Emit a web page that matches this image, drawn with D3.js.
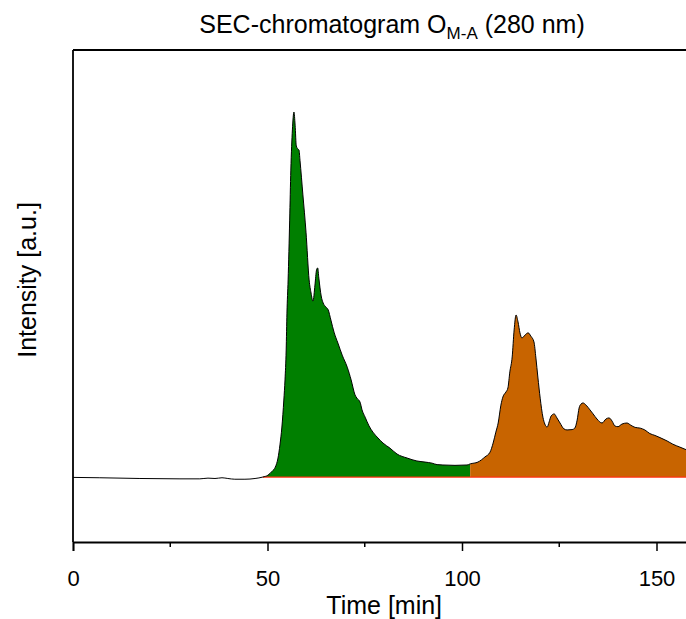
<!DOCTYPE html>
<html>
<head>
<meta charset="utf-8">
<script src="https://cdn.jsdelivr.net/npm/d3@7"></script>
<style>
    body { margin: 0; background: #fff; }
    svg { display: block; font-family: Arial, "Liberation Sans", sans-serif; }
</style>
</head>
<body>
<svg id="chart" width="686" height="619"></svg>
<script>
// Chromatogram trace (time in min, intensity in a.u.)
var time = [0, 6.9, 17.2, 27.5, 32.6, 34.7, 36.5, 38.3, 39.8, 41.6, 44.2, 46.8,
    48.8, 50.1, 51.2, 52.0, 52.7, 53.2, 53.7, 54.2, 54.5, 54.8, 55.0, 55.3, 55.7, 56.0, 56.4,
    56.8, 57.1, 57.4, 57.8, 58.1, 58.35, 59.1, 59.9, 60.7, 61.2, 61.7, 62.2, 62.6, 62.9,
    63.2, 63.8, 64.3, 65.0, 65.6, 66.3, 67.1, 68.1, 69.2, 70.5, 71.5, 72.5, 73.0, 73.8,
    74.3, 75.1, 76.1, 77.1, 78.4, 79.7, 81.5, 83.3, 85.9, 88.4, 90.5, 92.3, 93.6, 95.1,
    98.2, 101.3, 102.1, 104.1, 105.9, 107.2, 108.0, 108.7, 109.3, 110.0, 110.5, 111.3,
    111.8, 112.3, 112.9, 113.4, 113.9, 114.4, 114.9, 115.4, 116.2, 117.0, 117.7, 118.5,
    119.0, 119.5, 120.1, 120.8, 121.3, 121.9, 122.4, 122.9, 123.7, 124.4, 125.2, 126.2,
    127.0, 128.3, 129.0, 129.6, 130.1, 130.6, 131.1, 131.9, 132.9, 133.7, 134.7, 136.0,
    137.0, 137.8, 138.6, 139.3, 140.1, 141.1, 142.4, 143.4, 144.5, 145.8, 147.0, 148.3,
    149.6, 150.9, 152.7, 154.2, 156.0, 157.6, 159.1, 160];

var intensity = [-0.001, -0.002, -0.004, -0.005, -0.005, -0.003, -0.004, -0.002, -0.004, -0.006, -0.006, -0.004,
    0.0, 0.005, 0.016, 0.027, 0.052, 0.088, 0.137, 0.211, 0.266, 0.348, 0.449, 0.540, 0.704, 0.841, 0.951,
    1.0, 0.964, 0.907, 0.899, 0.896, 0.868, 0.773, 0.671, 0.540, 0.504, 0.482, 0.526, 0.567, 0.573,
    0.545, 0.496, 0.477, 0.466, 0.458, 0.430, 0.397, 0.367, 0.334, 0.301, 0.266, 0.225, 0.216, 0.205,
    0.184, 0.164, 0.140, 0.123, 0.107, 0.093, 0.079, 0.063, 0.052, 0.044, 0.041, 0.038, 0.034, 0.033,
    0.032, 0.033, 0.036, 0.041, 0.055, 0.068, 0.093, 0.123, 0.148, 0.197, 0.219, 0.233,
    0.244, 0.288, 0.329, 0.403, 0.444, 0.425, 0.395, 0.381, 0.389, 0.395, 0.386, 0.370,
    0.326, 0.274, 0.216, 0.164, 0.145, 0.137, 0.151, 0.167, 0.173, 0.162, 0.148, 0.132,
    0.129, 0.130, 0.134, 0.156, 0.189, 0.200, 0.203, 0.197, 0.184, 0.173, 0.159, 0.148,
    0.159, 0.162, 0.153, 0.140, 0.138, 0.145, 0.148, 0.142, 0.136, 0.134, 0.129, 0.119,
    0.114, 0.108, 0.099, 0.090, 0.082, 0.075, 0.068, 0.065];

// Integrated fractions: [start, end] in min
var fractionNames = ["F1", "F2"];
var fractionFrom = [48.8, 102.1];
var fractionTo = [102.1, 160];
var fractionColors = ["#007f00", "#c86400"];

var xTicks = [0, 50, 100, 150];
var xMinorTicks = [25, 75, 125];

var svg = d3.select("#chart"),
    plotLeft = 73,
    plotTop = 50,
    plotBottom = 542;

var x = d3.scaleLinear().domain([0, 160]).range([plotLeft, plotLeft + 160 * 3.89]);
var y = d3.scaleLinear().domain([-0.178, 1.17]).range([plotBottom, plotTop]);

var trace = time.map(function (t, i) { return { t: t, v: intensity[i] }; });

// Shaded fractions
fractionNames.forEach(function (name, k) {
    var pts = trace.filter(function (d) { return d.t >= fractionFrom[k] && d.t <= fractionTo[k]; });
    svg.append("path")
        .datum(pts)
        .attr("class", "fraction " + name)
        .attr("fill", fractionColors[k])
        .attr("d", d3.area()
            .x(function (d) { return x(d.t); })
            .y0(y(0))
            .y1(function (d) { return y(d.v); })
            .curve(d3.curveMonotoneX));
});

// Integration baseline
svg.append("line")
    .attr("x1", x(fractionFrom[0]))
    .attr("x2", x(160))
    .attr("y1", y(0))
    .attr("y2", y(0))
    .attr("stroke", "#ff3010")
    .attr("stroke-width", 1.3);

// Trace
svg.append("path")
    .datum(trace)
    .attr("fill", "none")
    .attr("stroke", "#000")
    .attr("stroke-width", 1)
    .attr("d", d3.line()
        .x(function (d) { return x(d.t); })
        .y(function (d) { return y(d.v); })
        .curve(d3.curveMonotoneX));

// Frame: left and top
svg.append("line")
    .attr("x1", plotLeft).attr("x2", plotLeft)
    .attr("y1", plotTop).attr("y2", plotBottom)
    .attr("stroke", "#000").attr("stroke-width", 1.8);
svg.append("line")
    .attr("x1", plotLeft).attr("x2", 700)
    .attr("y1", plotTop).attr("y2", plotTop)
    .attr("stroke", "#000").attr("stroke-width", 1.8);

var xAxis = svg.append("g")
    .attr("transform", "translate(0," + plotBottom + ")")
    .call(d3.axisBottom(x).tickValues(xTicks).tickSize(9).tickPadding(0)
        .tickFormat(d3.format("d")));
xAxis.select(".domain").attr("stroke-width", 1.8);
xAxis.selectAll(".tick line").attr("stroke-width", 1.5);
xAxis.selectAll(".tick text")
    .attr("y", 44)
    .attr("dy", null)
    .attr("font-size", 22)
    .attr("font-family", "Arial, 'Liberation Sans', sans-serif");

svg.append("g")
    .attr("transform", "translate(0," + plotBottom + ")")
    .selectAll("line")
    .data(xMinorTicks)
    .enter()
    .append("line")
    .attr("x1", function (d) { return x(d); })
    .attr("x2", function (d) { return x(d); })
    .attr("y1", 0)
    .attr("y2", 5)
    .attr("stroke", "#000")
    .attr("stroke-width", 1.5);

// Labels
svg.append("text")
    .attr("x", x(80))
    .attr("y", 614)
    .attr("text-anchor", "middle")
    .attr("font-size", 25)
    .text("Time [min]");

svg.append("text")
    .attr("transform", "translate(36,280) rotate(-90)")
    .attr("text-anchor", "middle")
    .attr("font-size", 25)
    .text("Intensity [a.u.]");

var title = svg.append("text")
    .attr("x", 392)
    .attr("y", 33)
    .attr("text-anchor", "middle")
    .attr("font-size", 25);
title.append("tspan").text("SEC-chromatogram O");
title.append("tspan").attr("font-size", 17).attr("dy", 6).text("M-A");
title.append("tspan").attr("dy", -6).text(" (280 nm)");
</script>
</body>
</html>
